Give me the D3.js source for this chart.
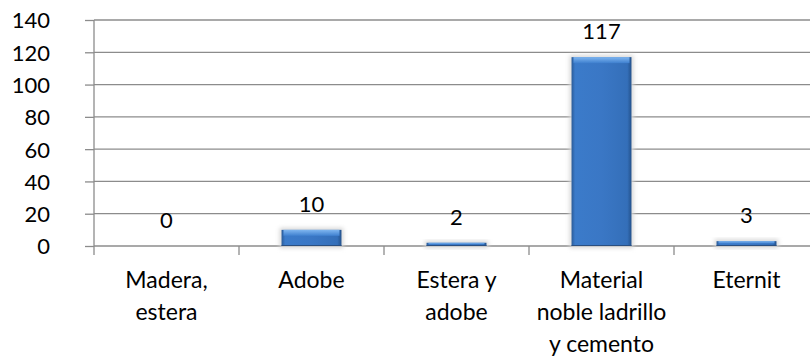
<!DOCTYPE html>
<html>
<head>
<meta charset="utf-8">
<script src="https://cdn.jsdelivr.net/npm/d3@7/dist/d3.min.js"></script>
<style>
  html, body { margin: 0; padding: 0; background: #fff; }
  svg { display: block; font-family: Lato, "Open Sans", sans-serif; }
</style>
</head>
<body>
<svg id="chart" width="810" height="361"></svg>
<script>
// Tipo de material de las viviendas
const categories = [
  ["Madera,", "estera"],
  ["Adobe"],
  ["Estera y", "adobe"],
  ["Material", "noble ladrillo", "y cemento"],
  ["Eternit"]
];
const values = [0, 10, 2, 117, 3];
const yTicks = [0, 20, 40, 60, 80, 100, 120, 140];

const svg = d3.select("#chart");
const plotLeft = 94, plotRight = 819, plotTop = 20, plotBottom = 246;

const x = d3.scaleBand().domain(d3.range(categories.length)).range([plotLeft, plotRight]).padding(0);
const y = d3.scaleLinear().domain([0, 140]).range([plotBottom, plotTop]);
const barW = x.bandwidth() / 2.42;
const cx = i => x(i) + x.bandwidth() / 2;

const defs = svg.append("defs");
const g1 = defs.append("linearGradient").attr("id", "barFill").attr("x1", 0).attr("x2", 1).attr("y1", 0).attr("y2", 0);
[["0%", "#2a5b98"], ["6%", "#3b7bca"], ["50%", "#3a77c5"], ["93%", "#346fb9"], ["100%", "#24528c"]]
  .forEach(([o, c]) => g1.append("stop").attr("offset", o).attr("stop-color", c));
const g2 = defs.append("linearGradient").attr("id", "barTop").attr("x1", 0).attr("x2", 0).attr("y1", 0).attr("y2", 1);
[["0%", "#7fb6f0"], ["100%", "#3f80cf"]]
  .forEach(([o, c]) => g2.append("stop").attr("offset", o).attr("stop-color", c));
const shadow = defs.append("filter").attr("id", "soft").attr("x", "-20%").attr("y", "-20%").attr("width", "140%").attr("height", "140%");
shadow.append("feGaussianBlur").attr("stdDeviation", 2);

// Gridlines
svg.append("g").selectAll("line").data(yTicks).join("line")
  .attr("x1", plotLeft).attr("x2", 810)
  .attr("y1", d => y(d)).attr("y2", d => y(d))
  .attr("stroke", "#8c8c8c").attr("stroke-width", 1.3);

// Y axis
const yAxis = svg.append("g").attr("transform", `translate(${plotLeft},0)`)
  .call(d3.axisLeft(y).tickValues(yTicks).tickSize(9).tickPadding(35));
yAxis.select(".domain").remove();
yAxis.selectAll(".tick line").attr("stroke", "#8c8c8c").attr("stroke-width", 1.3);
yAxis.selectAll(".tick text").attr("font-size", 22).attr("fill", "#000")
  .attr("font-family", "Lato, sans-serif").attr("dy", "0.36em");
svg.append("line").attr("x1", plotLeft).attr("x2", plotLeft).attr("y1", plotTop).attr("y2", plotBottom + 9)
  .attr("stroke", "#8c8c8c").attr("stroke-width", 1.3);

// Category ticks
svg.append("g").selectAll("line").data(d3.range(1, categories.length + 1)).join("line")
  .attr("x1", d => plotLeft + d * x.step()).attr("x2", d => plotLeft + d * x.step())
  .attr("y1", plotBottom).attr("y2", plotBottom + 9)
  .attr("stroke", "#8c8c8c").attr("stroke-width", 1.3);

// Bars (values of zero draw nothing)
const barData = values.map((v, i) => ({ i, v })).filter(d => d.v > 0);
const bars = svg.append("g").selectAll("g").data(barData).join("g");
bars.append("rect")
  .attr("x", d => cx(d.i) - barW / 2 - 2)
  .attr("y", d => y(d.v) - 2)
  .attr("width", barW + 4)
  .attr("height", d => y(0) - y(d.v) + 4)
  .attr("fill", "#d8d8d8").attr("filter", "url(#soft)");
bars.append("rect")
  .attr("x", d => cx(d.i) - barW / 2)
  .attr("y", d => y(d.v))
  .attr("width", barW)
  .attr("height", d => y(0) - y(d.v))
  .attr("fill", "url(#barFill)");
bars.append("rect")
  .attr("x", d => cx(d.i) - barW / 2 + 2)
  .attr("y", d => y(d.v))
  .attr("width", barW - 4)
  .attr("height", d => Math.min(6, (y(0) - y(d.v)) / 2))
  .attr("fill", "url(#barTop)");
bars.append("line")
  .attr("x1", d => cx(d.i) - barW / 2)
  .attr("x2", d => cx(d.i) + barW / 2)
  .attr("y1", y(0) - 0.5).attr("y2", y(0) - 0.5)
  .attr("stroke", "#2a4f80").attr("stroke-width", 1);

// Value labels
svg.append("g").selectAll("text").data(values).join("text")
  .attr("x", (d, i) => cx(i))
  .attr("y", d => y(d) - 26)
  .attr("dy", "0.36em")
  .attr("text-anchor", "middle")
  .attr("font-size", 22)
  .attr("fill", "#000")
  .text(d => d);

// Category labels
const cl = svg.append("g").selectAll("text").data(categories).join("text")
  .attr("x", (d, i) => cx(i))
  .attr("y", 288)
  .attr("text-anchor", "middle")
  .attr("font-size", 23)
  .attr("fill", "#000");
cl.selectAll("tspan").data(d => d).join("tspan")
  .attr("x", function () { return this.parentNode.getAttribute("x"); })
  .attr("dy", (d, j) => j === 0 ? 0 : 32)
  .text(d => d);
</script>
</body>
</html>
